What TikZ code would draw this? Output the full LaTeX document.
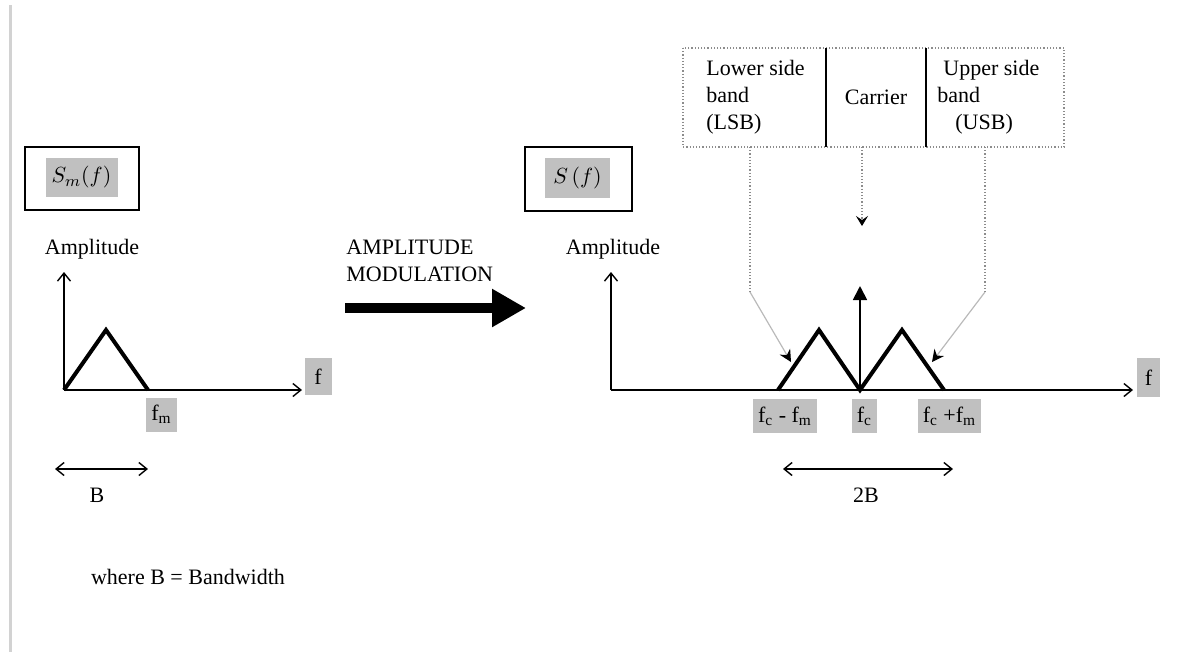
\documentclass[tikz,border=0pt]{standalone}
\usepackage{fontspec}
\setmainfont{Liberation Serif}
\usetikzlibrary{arrows.meta}
\definecolor{lblgray}{RGB}{192,192,192}
\definecolor{ptrgray}{RGB}{140,140,140}
\def\yAx{390}
\def\xL{64}
\def\xR{611}
\def\xC{860}
\def\yTop{272}
\tikzset{
  amtxt/.style={font=\fontsize{11}{13.5}\selectfont, inner sep=1pt},
  amlbl/.style={amtxt, fill=lblgray, inner xsep=2.5pt, minimum height=17pt},
  ambox/.style={draw, line width=0.9pt},
  amaxis/.style={-{Straight Barb[length=4pt,width=6.5pt]}, line width=0.7pt},
  amspan/.style={{Straight Barb[length=4pt,width=6.5pt]}-{Straight Barb[length=4pt,width=6.5pt]}, line width=0.7pt},
  amband/.style={line width=2pt, line join=miter},
  amcarr/.style={-{Triangle[length=7pt,width=7pt]}, line width=0.9pt},
  ammod/.style={-{Triangle[length=17pt,width=18pt]}, line width=5pt},
  amptr/.style={densely dotted, ptrgray, line width=0.6pt},
  amslant/.style={ptrgray!60, line width=0.6pt, -{Stealth[length=6pt,width=6pt,black]}},
  amdrop/.style={amptr, -{Stealth[length=5pt,width=6pt,black,inset=2pt]}},
}
\begin{document}
\begin{tikzpicture}[x=0.5pt, y=-0.5pt]
  \useasboundingbox (0,0) rectangle (1185,655);
  \draw[gray!35, line width=1.5pt] (10,5) -- (10,652);

  % baseband spectrum
  \node[ambox, minimum width=57pt, minimum height=31.5pt] (boxSm) at (82,178.5) {};
  \node[amlbl, minimum width=36pt, minimum height=19.5pt] (lblSm) at (81.5,177.5) {$S_m(f)$};
  \node[amtxt] (ampL) at (92,249) {Amplitude};
  \coordinate (oL) at (\xL,\yAx);
  \coordinate (yL) at (\xL,\yTop);
  \coordinate (xL) at (302,\yAx);
  \draw[amaxis] (oL) -- (yL);
  \draw[amaxis] (oL) -- (xL);
  \draw[amband] (oL) -- (106,330) -- (148,\yAx);
  \node[amlbl, minimum width=13.5pt, minimum height=18.5pt] (fL) at (318,376.5) {f};
  \node[amlbl] (fmL) at (161.5,414.5) {f\textsubscript{m}};
  \coordinate (bA) at (55,469);
  \coordinate (bB) at (148,469);
  \draw[amspan] (bA) -- (bB);
  \node[amtxt] (bL) at (97,495) {B};
  \node[amtxt] (bwL) at (188,577) {where B = Bandwidth};

  % modulation
  \node[amtxt, align=left, anchor=north west] (modTxt) at (344,238) {AMPLITUDE\\MODULATION};
  \coordinate (modA) at (345,308);
  \coordinate (modB) at (526,308);
  \draw[ammod] (modA) -- (modB);

  % AM spectrum
  \node[ambox, minimum width=53.5pt, minimum height=32pt] (boxS) at (578.5,179) {};
  \node[amlbl, minimum width=32.5pt, minimum height=20pt] (lblS) at (577.5,178) {$S\,(f)$};
  \node[amtxt] (ampR) at (613,249) {Amplitude};
  \coordinate (oR) at (\xR,\yAx);
  \coordinate (yR) at (\xR,\yTop);
  \coordinate (xR) at (1133,\yAx);
  \draw[amaxis] (oR) -- (yR);
  \draw[amaxis] (oR) -- (xR);
  \draw[amband] (778,\yAx) -- (819,330) -- (\xC,\yAx) -- (902,330) -- (944,\yAx);
  \coordinate (cBase) at (\xC,\yAx);
  \coordinate (cTip) at (\xC,286);
  \draw[amcarr] (cBase) -- (cTip);
  \node[amlbl, minimum width=11.5pt, minimum height=19.5pt] (fR) at (1148.5,377.5) {f};
  \node[amlbl] (lsbF) at (785,416) {f\textsubscript{c} - f\textsubscript{m}};
  \node[amlbl] (cF) at (864.5,416) {f\textsubscript{c}};
  \node[amlbl] (usbF) at (949.5,416) {f\textsubscript{c} +f\textsubscript{m}};
  \coordinate (sA) at (783,469);
  \coordinate (sB) at (953,469);
  \draw[amspan] (sA) -- (sB);
  \node[amtxt] (bwR) at (866,495) {2B};

  % side band table
  \draw[densely dotted, ptrgray, line width=0.6pt] (683,48) rectangle (1064,147);
  \draw[line width=1pt] (826,48) -- (826,147);
  \draw[line width=1pt] (926,48) -- (926,147);
  \node[amtxt, align=left, anchor=west] (lsb) at (704,97.5) {Lower side\\band\\(LSB)};
  \node[amtxt] (car) at (876,97.5) {Carrier};
  \node[amtxt, align=left, anchor=west] (usb) at (935,97.5) {\hspace*{3pt}Upper side\\band\\\hspace*{9pt}(USB)};
  \coordinate (lsbTop) at (750,147);
  \coordinate (lsbKnee) at (750,292);
  \coordinate (lsbTip) at (791,362);
  \coordinate (carTop) at (862,147);
  \coordinate (carTip) at (862,226);
  \coordinate (usbTop) at (985,147);
  \coordinate (usbKnee) at (985,292);
  \coordinate (usbTip) at (932,362);
  \draw[amptr] (lsbTop) -- (lsbKnee);
  \draw[amslant] (lsbKnee) -- (lsbTip);
  \draw[amdrop] (carTop) -- (carTip);
  \draw[amptr] (usbTop) -- (usbKnee);
  \draw[amslant] (usbKnee) -- (usbTip);
\end{tikzpicture}
\end{document}
